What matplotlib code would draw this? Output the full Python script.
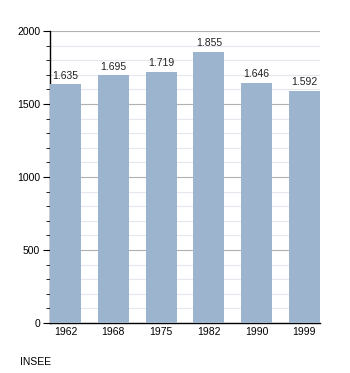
import matplotlib.pyplot as plt
from matplotlib.ticker import MultipleLocator

years = ['1962', '1968', '1975', '1982', '1990', '1999']
population = [1635, 1695, 1719, 1855, 1646, 1592]
labels = ['1.635', '1.695', '1.719', '1.855', '1.646', '1.592']

fig = plt.figure(figsize=(3.5, 3.73), dpi=100)
ax = fig.add_axes([0.143, 0.134, 0.771, 0.783])

x = range(len(years))
w = 0.65
ax.bar(x, population, width=w, color='#9db4cf', zorder=3)
for xi, v, lab in zip(x, population, labels):
    ax.text(xi, v + 25, lab, ha='center', va='bottom', fontsize=7.5,
            family='Liberation Sans', color='#222222')

ax.set_xlim(-w / 2, len(years) - 1 + w / 2)
ax.set_ylim(0, 2000)
ax.set_xticks(list(x))
ax.set_xticklabels(years)
ax.yaxis.set_major_locator(MultipleLocator(500))
ax.yaxis.set_minor_locator(MultipleLocator(100))
ax.grid(axis='y', which='major', color='#b0b0b0', lw=0.8, zorder=0)
ax.grid(axis='y', which='minor', color='#e4e8ee', lw=0.8, zorder=0)

for s in ['top', 'right']:
    ax.spines[s].set_visible(False)
ax.spines['left'].set_linewidth(1.0)
ax.spines['bottom'].set_linewidth(1.0)
ax.tick_params(axis='x', length=0, labelsize=7.5, pad=3)
ax.tick_params(axis='y', which='major', length=5, labelsize=7.5, pad=2)
ax.tick_params(axis='y', which='minor', length=3)
for t in ax.get_xticklabels() + ax.get_yticklabels():
    t.set_family('Liberation Sans')

fig.text(20 / 350, 1 - 362 / 373, 'INSEE', fontsize=7.5, family='Liberation Sans',
         va='center')

fig.savefig('out.png', dpi=100)
